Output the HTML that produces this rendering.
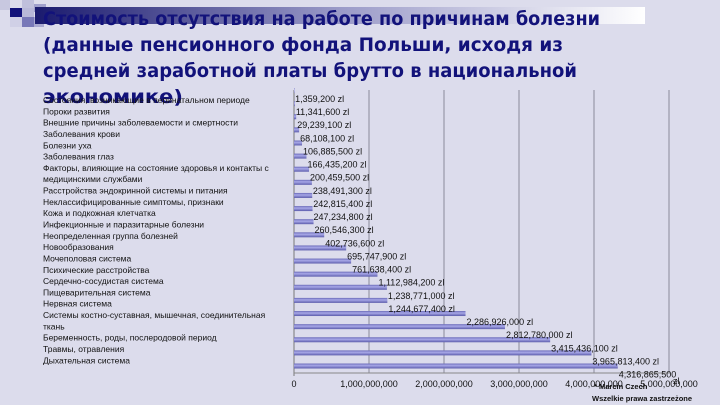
<!DOCTYPE html>
<html><head><meta charset="utf-8"><style>
body{margin:0;width:720px;height:405px;overflow:hidden;background:#dcdcec;font-family:"Liberation Sans","DejaVu Sans",sans-serif;}
svg{display:block}
</style></head><body>
<svg width="720" height="405" viewBox="0 0 720 405">
<defs>
<linearGradient id="topbar" x1="0" x2="1" y1="0" y2="0"><stop offset="0" stop-color="#1a1a6e"/><stop offset="0.5" stop-color="#9a9ac8"/><stop offset="1" stop-color="#ffffff"/></linearGradient>
<linearGradient id="bar" x1="0" x2="0" y1="0" y2="1"><stop offset="0" stop-color="#6a6ab8"/><stop offset="0.4" stop-color="#a8a8e8"/><stop offset="1" stop-color="#5c5cac"/></linearGradient>
</defs>
<g>
<rect x="0" y="0" width="10" height="10" fill="#c8c8e0"/>
<rect x="10" y="8" width="12" height="9" fill="#12127a"/>
<rect x="22" y="0" width="12" height="8" fill="#c0c0dc"/>
<rect x="22" y="8" width="12" height="9" fill="#b8b8d8"/>
<rect x="34" y="4" width="12" height="8" fill="#a0a0cc"/>
<rect x="22" y="17" width="12" height="10" fill="#7878b8"/>
<rect x="10" y="17" width="12" height="10" fill="#d0d0e6"/>
<rect x="34" y="17" width="10" height="10" fill="#a8a8d0"/>
</g>
<rect x="35" y="7" width="610" height="17" fill="url(#topbar)"/>
<g font-family="'DejaVu Sans',sans-serif" font-weight="bold" font-size="19" fill="#12127a">
<text x="43" y="25" textLength="557" lengthAdjust="spacingAndGlyphs">Стоимость отсутствия на работе по причинам болезни</text>
<text x="43" y="51" textLength="520" lengthAdjust="spacingAndGlyphs">(данные пенсионного фонда Польши, исходя из</text>
<text x="43" y="77" textLength="534" lengthAdjust="spacingAndGlyphs">средней заработной платы брутто в национальной</text>
<text x="43" y="103" textLength="140" lengthAdjust="spacingAndGlyphs">экономике)</text>
</g>
<g id="grid"></g>
<g id="cats" font-size="8.5" fill="#111"></g>
<g id="bars"></g>
<g id="vals" font-size="9" fill="#111"></g>
<g id="ticks" font-size="9" fill="#111"></g>
<text x="673" y="384" font-size="9" fill="#111">zl</text>
<text x="594" y="389" font-size="7.5" font-weight="bold" fill="#111">* Marcin Czech</text>
<text x="592" y="401" font-size="7.5" font-weight="bold" fill="#111">Wszelkie prawa zastrzeżone</text>
</svg>
<script>
const categories=[["Состояния, возникающие в перинатальном периоде"],["Пороки развития"],["Внешние причины заболеваемости и смертности"],["Заболевания крови"],["Болезни уха"],["Заболевания глаз"],["Факторы, влияющие на состояние здоровья и контакты с","медицинскими службами"],["Расстройства эндокринной системы и питания"],["Неклассифицированные симптомы, признаки"],["Кожа и подкожная клетчатка"],["Инфекционные и паразитарные болезни"],["Неопределенная группа болезней"],["Новообразования"],["Мочеполовая система"],["Психические расстройства"],["Сердечно-сосудистая система"],["Пищеварительная система"],["Нервная система"],["Системы костно-суставная, мышечная, соединительная","ткань"],["Беременность, роды, послеродовой период"],["Травмы, отравления"],["Дыхательная система"]];
const values=[1359200,11341600,29239100,68108100,106885500,166435200,200459500,238491300,242815400,247234800,260546300,402736600,695747900,761638400,1112984200,1238771000,1244677400,2286926000,2812780000,3415436100,3965813400,4316865500];
const valueLabels=["1,359,200 zl","11,341,600 zl","29,239,100 zl","68,108,100 zl","106,885,500 zl","166,435,200 zl","200,459,500 zl","238,491,300 zl","242,815,400 zl","247,234,800 zl","260,546,300 zl","402,736,600 zl","695,747,900 zl","761,638,400 zl","1,112,984,200 zl","1,238,771,000 zl","1,244,677,400 zl","2,286,926,000 zl","2,812,780,000 zl","3,415,436,100 zl","3,965,813,400 zl","4,316,865,500"];
const tickValues=[0,1e9,2e9,3e9,4e9,5e9];
const tickLabels=["0","1,000,000,000","2,000,000,000","3,000,000,000","4,000,000,000","5,000,000,000"];
const NS="http://www.w3.org/2000/svg";
const x=v=>294+v/1e9*75;
const n=values.length;
const step=(374-98.5)/(n-1);
const labelY=i=>98.5+i*step;
function mk(tag,attrs,parent,txt){const e=document.createElementNS(NS,tag);for(const k in attrs)e.setAttribute(k,attrs[k]);if(txt!==undefined)e.textContent=txt;parent.appendChild(e);return e;}
const grid=document.getElementById('grid');
tickValues.forEach((t,i)=>{
 const l=mk('line',{x1:x(t),x2:x(t),y1:90,y2:i===0?376:373,stroke:i===0?'#777':'#8a8a9a','stroke-width':1},grid);
 
 
});
const ax=mk('line',{x1:294,x2:670,y1:373,y2:373,stroke:'#888'},grid);


const ticks=document.getElementById('ticks');
tickValues.forEach((t,i)=>{
 const tx=mk('text',{x:x(t),y:387,'text-anchor':'middle'},ticks,tickLabels[i]);
 
 
});
const bars=document.getElementById('bars'),vals=document.getElementById('vals'),cats=document.getElementById('cats');
values.forEach((v,i)=>{
 const cy=labelY(i)-8;
 const w=Math.max(x(v)-294,0.5);
 const b=mk('rect',{x:294,y:cy-2.5,width:w,height:5,fill:'url(#bar)'},bars);
 
 
 const t=mk('text',{x:x(v)+1,y:labelY(i)+3.5},vals,valueLabels[i]);
 
 
});
let line=0;const lh=(349-100)/22;
categories.forEach(c=>{c.forEach(s=>{
 const t=mk('text',{x:43,y:100+line*lh+3},cats,s);
 
 
 line++;});});
</script>
</body></html>
